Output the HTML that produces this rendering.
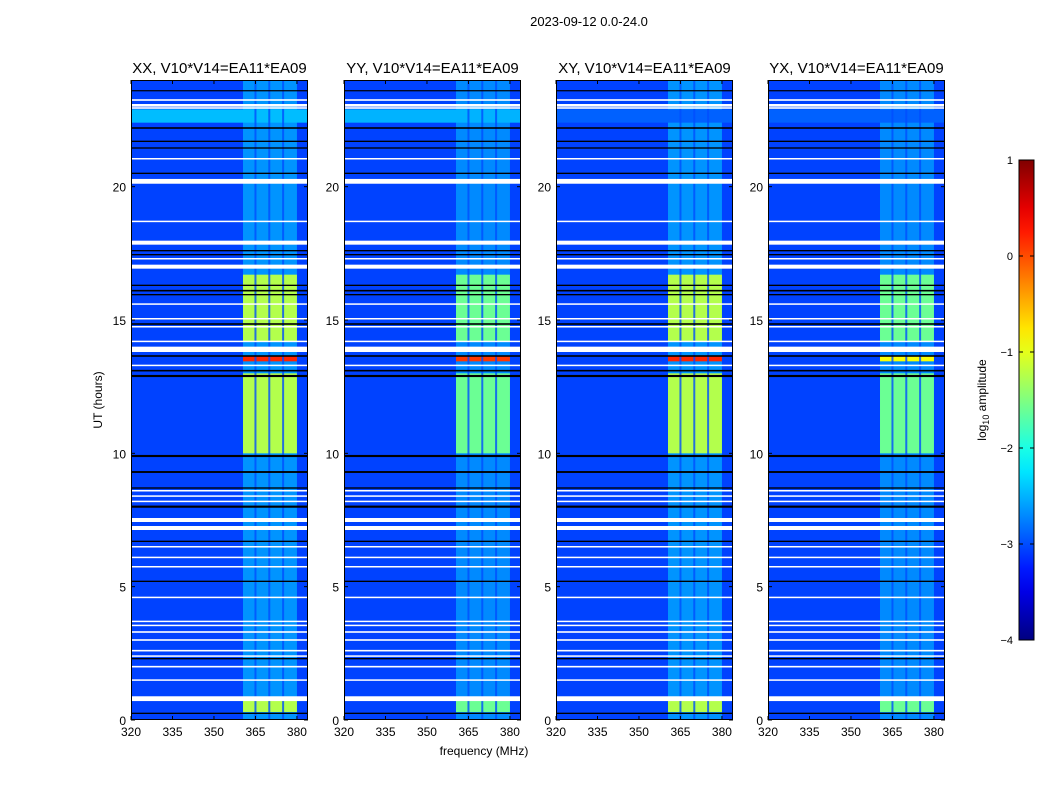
<!DOCTYPE html>
<html><head><meta charset="utf-8"><style>
body{margin:0;background:#fff;}
svg{display:block;font-family:"Liberation Sans",sans-serif;}
</style></head><body>
<svg id="c" width="1050" height="800"></svg>
<script>
const panelNames=['XX, V10*V14=EA11*EA09','YY, V10*V14=EA11*EA09','XY, V10*V14=EA11*EA09','YX, V10*V14=EA11*EA09'];
const panelX=[131,344,556,768];
const xTicks=[320,335,350,365,380];
const yTicks=[0,5,10,15,20];
const cbTicks=[1,0,-1,-2,-3,-4];
const baseLevel=-3.05;
const quietBandLevel=[-2.65,-2.7,-2.65,-2.7];
const brightTimes=[[0.3,0.75],[10.0,13.0],[14.2,16.7]];
const brightLevel=[-1.25,-1.6,-1.25,-1.6];
const orangeLevel=[0.2,0.1,0.2,-0.9];
const cyanRowLevel=[-2.45,-2.5,-2.9,-2.9];
const whiteRows=[[23.25,0.06],[23.05,0.1],[22.95,0.06],[21.05,0.05],[20.2,0.18],[18.7,0.05],[17.9,0.15],[17.3,0.05],[17.0,0.15],[15.6,0.05],[15.05,0.05],[14.75,0.05],[14.2,0.05],[13.9,0.2],[13.3,0.05],[8.6,0.05],[8.4,0.05],[8.2,0.05],[7.5,0.15],[7.2,0.15],[6.5,0.05],[6.1,0.05],[5.75,0.05],[4.6,0.05],[3.7,0.05],[3.55,0.05],[3.3,0.06],[3.0,0.06],[2.6,0.06],[2.4,0.05],[2.0,0.06],[1.5,0.05],[0.8,0.18]];
const blackRows=[[23.6,0.04],[22.2,0.06],[21.7,0.05],[21.45,0.05],[20.5,0.05],[17.6,0.05],[17.45,0.05],[16.3,0.05],[16.1,0.06],[15.95,0.05],[14.85,0.06],[13.65,0.06],[13.1,0.06],[12.9,0.08],[9.9,0.08],[9.3,0.07],[8.7,0.05],[8.0,0.08],[6.7,0.05],[5.2,0.05],[2.3,0.05],[0.25,0.05]];
const sepFreqs=[365,370,375];
const NS='http://www.w3.org/2000/svg';
const svg=document.getElementById('c');
const PW=177,PT=80,PB=720;
function yS(h){return PB-h*(PB-PT)/24;}
function xS(p,f){return panelX[p]+(f-320)*PW/64;}
function jet(v){const t=Math.max(0,Math.min(1,(v+4)/5));const c=x=>Math.round(255*Math.max(0,Math.min(1,1.5-Math.abs(4*t-x))));return `rgb(${c(3)},${c(2)},${c(1)})`;}
function el(tag,attrs,parent){const e=document.createElementNS(NS,tag);for(const k in attrs)e.setAttribute(k,attrs[k]);(parent||svg).appendChild(e);return e;}
function txt(x,y,s,size,anchor,parent){const t=el('text',{x:x,y:y,'font-size':size,'text-anchor':anchor||'middle',fill:'#000'},parent);t.textContent=s;return t;}
const st=txt(589,26,'2023-09-12 0.0-24.0',13);


for(let p=0;p<4;p++){
  const g=el('g',{});
  
  
  const x0=panelX[p];
  el('rect',{x:x0,y:PT,width:PW,height:PB-PT,fill:jet(baseLevel)},g);
  const band=el('rect',{x:xS(p,360.5),y:PT,width:xS(p,380)-xS(p,360.5),height:PB-PT,fill:jet(quietBandLevel[p])},g);
  
  
  brightTimes.forEach(b=>{
    const r=el('rect',{x:xS(p,360.5),y:yS(b[1]),width:xS(p,380)-xS(p,360.5),height:yS(b[0])-yS(b[1]),fill:jet(brightLevel[p])},g);
    
    
  });
  const o=el('rect',{x:xS(p,360.5),y:yS(13.65),width:xS(p,380)-xS(p,360.5),height:yS(13.45)-yS(13.65),fill:jet(orangeLevel[p])},g);
  
  
  const cr=el('rect',{x:x0,y:yS(22.9),width:PW,height:yS(22.4)-yS(22.9),fill:jet(cyanRowLevel[p])},g);
  
  
  sepFreqs.forEach(f=>{
    const s=el('rect',{x:xS(p,f)-1,y:PT,width:2,height:PB-PT,fill:jet(-3.0),opacity:0.8},g);
    
    
  });
  whiteRows.forEach(w=>{
    const r=el('rect',{x:x0,y:yS(w[0]+w[1]/2),width:PW,height:Math.max(1.5,w[1]*640/24),fill:'#fff'},g);
    
    
  });
  blackRows.forEach(w=>{
    const r=el('rect',{x:x0,y:yS(w[0]+w[1]/2),width:PW,height:Math.max(1.2,w[1]*640/24),fill:'#000'},g);
    
    
  });
  el('rect',{x:x0+0.5,y:PT+0.5,width:PW-1,height:PB-PT-1,fill:'none',stroke:'#000','stroke-width':1},g);
  const t=txt(x0+PW/2,73,panelNames[p],15,'middle',g);
  
  
  xTicks.forEach(f=>{
    const x=xS(p,f);
    el('line',{x1:x,x2:x,y1:PB,y2:PB-4,stroke:'#000'},g);
    el('line',{x1:x,x2:x,y1:PT,y2:PT+4,stroke:'#000'},g);
    const l=txt(x,736,String(f),12,'middle',g);
    
    
  });
  yTicks.forEach(h=>{
    const y=yS(h);
    el('line',{x1:x0,x2:x0+4,y1:y,y2:y,stroke:'#000'},g);
    el('line',{x1:x0+PW,x2:x0+PW-4,y1:y,y2:y,stroke:'#000'},g);
    const l=txt(x0-5,y+5,String(h),12,'end',g);
    
    
  });
}
const xl=txt(484,755,'frequency (MHz)',12);


const yl=txt(0,0,'UT (hours)',12);
yl.setAttribute('transform','translate(102,400) rotate(-90)');


const defs=el('defs',{});
const lg=el('linearGradient',{id:'jetg',x1:0,y1:1,x2:0,y2:0},defs);
for(let i=0;i<=20;i++){el('stop',{offset:i/20,'stop-color':jet(-4+5*i/20)},lg);}
const cb=el('rect',{x:1019,y:160,width:15,height:480,fill:'url(#jetg)',stroke:'#000'});


cbTicks.forEach(v=>{
  const y=640-(v+4)*96;
  el('line',{x1:1019,x2:1023,y1:y,y2:y,stroke:'#000'});
  el('line',{x1:1034,x2:1030,y1:y,y2:y,stroke:'#000'});
  const l=txt(1013,y+4,v<0?'\u2212'+(-v):String(v),11,'end');
  
  
});
const cl=el('text',{transform:'translate(986,400) rotate(-90)','font-size':12,'text-anchor':'middle'});
cl.innerHTML='log<tspan font-size="9" dy="3">10</tspan><tspan dy="-3"> amplitude</tspan>';


</script>
</body></html>
